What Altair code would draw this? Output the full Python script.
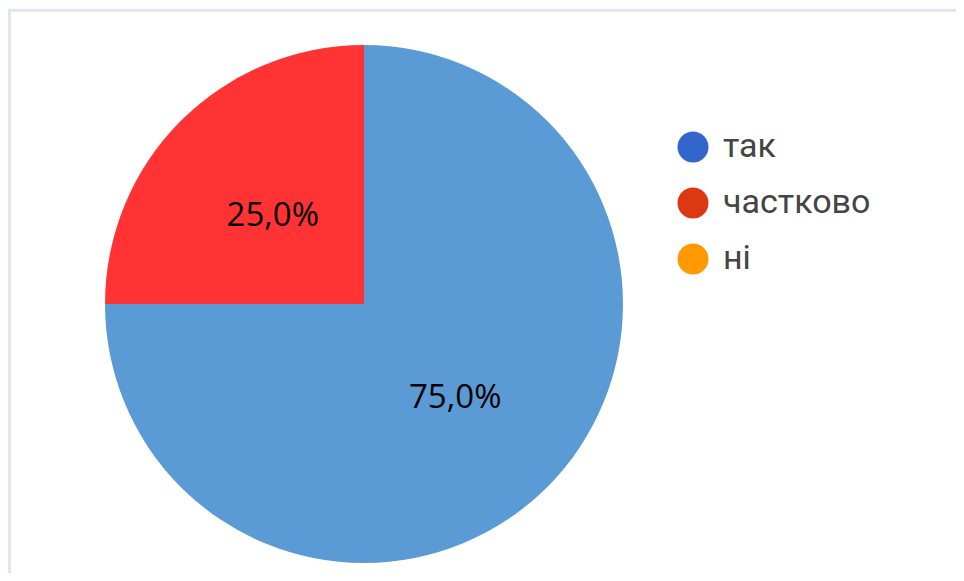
import altair as alt
import pandas as pd

categories = ["так", "частково", "ні"]
values = [75.0, 25.0, 0.0]
pie_colors = ["#5B9BD5", "#FF3333", "#FFC000"]
legend_colors = ["#3366CC", "#DC3912", "#FF9900"]
order_idx = [0, 1, 2]

df = pd.DataFrame({"name": categories, "value": values, "pie": pie_colors, "idx": order_idx})
one = pd.DataFrame({"a": [0]})

W, H = 948, 565
CX, CY = 356, 296

base = alt.Chart(df).encode(
    theta=alt.Theta("value:Q", stack=True),
    order=alt.Order("idx:Q"),
)

pie = base.mark_arc(radius=259, stroke=None).encode(
    fill=alt.Fill("pie:N", scale=None),
    x=alt.value(CX), y=alt.value(CY),
)

labels = base.transform_filter("datum.value > 0").transform_calculate(
    lbl="replace(format(datum.value, '.1f'), '.', ',') + '%'"
).mark_text(radius=129, fontSize=33, font="Open Sans", color="black",
            align="center", baseline="middle", dy=3).encode(
    text="lbl:N", x=alt.value(CX), y=alt.value(CY),
)

legend_layer = alt.Chart(df).mark_point(filled=True, opacity=0).encode(
    x=alt.value(-100), y=alt.value(-100),
    color=alt.Color("name:N", sort=categories,
                    scale=alt.Scale(domain=categories, range=legend_colors),
                    legend=alt.Legend(orient="none", legendX=668, legendY=122,
                                      title=None, symbolType="circle", symbolSize=960,
                                      symbolOpacity=1, symbolStrokeWidth=0,
                                      labelFontSize=34, labelFont="Roboto",
                                      labelColor="#444444", labelOffset=13,
                                      rowPadding=22, padding=0)),
)

top_line = alt.Chart(one).mark_rule(color="#E1E5EE", strokeWidth=3).encode(
    x=alt.value(0), x2=alt.value(W), y=alt.value(2.3))
left_line = alt.Chart(one).mark_rule(color="#E1E5EE", strokeWidth=3).encode(
    x=alt.value(1.5), y=alt.value(1), y2=alt.value(H))

chart = alt.layer(top_line, left_line, pie, labels, legend_layer).properties(
    width=W, height=H, autosize=alt.AutoSizeParams(type="none"), padding=0,
    background="white",
).configure_view(stroke=None)

chart.save("out.html", embed_options={"renderer": "svg", "actions": False})
